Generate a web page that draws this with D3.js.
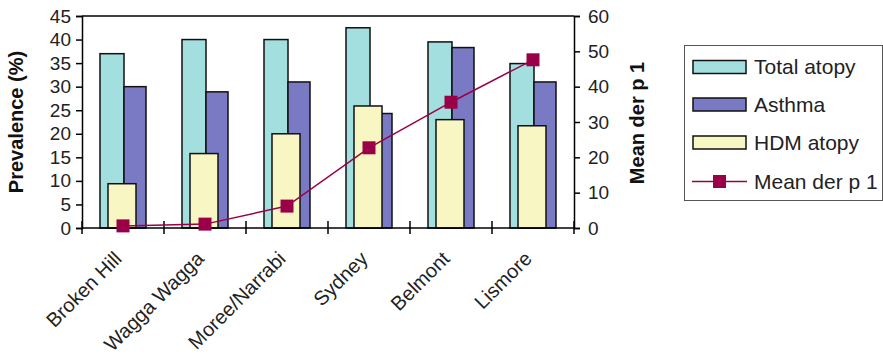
<!DOCTYPE html>
<html><head><meta charset="utf-8">
<script src="https://cdn.jsdelivr.net/npm/d3@7"></script>
<style>body{margin:0;background:#fff}svg{display:block}text{font-family:"Liberation Sans",Arial,sans-serif}</style>
</head><body>
<svg id="c" width="883" height="362"></svg>
<script>
const categories = ["Broken Hill","Wagga Wagga","Moree/Narrabi","Sydney","Belmont","Lismore"];
const totalAtopy = [37.0, 40.0, 40.0, 42.5, 39.5, 34.9];
const asthma = [30.0, 28.9, 31.0, 24.3, 38.3, 31.0];
const hdmAtopy = [9.4, 15.8, 20.0, 25.9, 23.0, 21.7];
const meanDerP1 = [0.6, 1.1, 6.2, 22.7, 35.6, 47.6];
const leftTicks = [0,5,10,15,20,25,30,35,40,45];
const rightTicks = [0,10,20,30,40,50,60];

const colors = {total:"#a3dfdf", asthma:"#7a7ac4", hdm:"#f8f7c4", line:"#9a0048"};
const svg = d3.select("#c");
const L=82, R=574, T=16, B=228;
const x = d3.scaleBand().domain(categories).range([L,R]);
const yL = d3.scaleLinear().domain([0,45]).range([B,T]);
const yR = d3.scaleLinear().domain([0,60]).range([B,T]);
const cx = d => x(d)+x.bandwidth()/2;

// bars
const g = svg.append("g").attr("stroke","#111").attr("stroke-width",1.5);
g.selectAll("rect.t").data(categories).join("rect")
  .attr("x",(d)=>cx(d)-23).attr("width",24)
  .attr("y",(d,i)=>yL(totalAtopy[i])).attr("height",(d,i)=>B-yL(totalAtopy[i]))
  .attr("fill",colors.total);
g.selectAll("rect.a").data(categories).join("rect")
  .attr("x",(d)=>cx(d)+1).attr("width",22)
  .attr("y",(d,i)=>yL(asthma[i])).attr("height",(d,i)=>B-yL(asthma[i]))
  .attr("fill",colors.asthma);
g.selectAll("rect.h").data(categories).join("rect")
  .attr("x",(d)=>cx(d)-15).attr("width",28)
  .attr("y",(d,i)=>yL(hdmAtopy[i])).attr("height",(d,i)=>B-yL(hdmAtopy[i]))
  .attr("fill",colors.hdm);

// frame
svg.append("line").attr("x1",L).attr("x2",R).attr("y1",T).attr("y2",T).attr("stroke","#000").attr("stroke-width",1.5);

// axes
const fs = "20px";
const ax = svg.append("g").attr("transform",`translate(${L},0)`)
  .call(d3.axisLeft(yL).tickValues(leftTicks).tickSize(6).tickPadding(5));
const axR = svg.append("g").attr("transform",`translate(${R},0)`)
  .call(d3.axisRight(yR).tickValues(rightTicks).tickSize(6).tickPadding(8));
[ax,axR].forEach(a=>{a.select(".domain").attr("stroke","#000").attr("stroke-width",1.5);
  a.selectAll(".tick line").attr("stroke","#000").attr("stroke-width",1.5);
  a.selectAll("text").attr("font-size","19px").attr("fill","#222").attr("font-family","Liberation Sans, Arial, sans-serif");});

// x axis
svg.append("line").attr("x1",L).attr("x2",R).attr("y1",B).attr("y2",B).attr("stroke","#000").attr("stroke-width",1.5);
const xt = [...categories.map(d=>x(d)), R];
svg.selectAll("line.xt").data(xt).join("line").attr("x1",d=>d).attr("x2",d=>d)
  .attr("y1",B-7).attr("y2",B+6).attr("stroke","#000").attr("stroke-width",1.5);
svg.selectAll("text.xl").data(categories).join("text")
  .attr("text-anchor","end").attr("font-size",fs).attr("fill","#222")
  .attr("transform",d=>`translate(${cx(d)},${B+32}) rotate(-45)`)
  .text(d=>d);

// line
const line = d3.line().x((d,i)=>cx(categories[i])).y(d=>yR(d));
svg.append("path").datum(meanDerP1).attr("d",line).attr("fill","none").attr("stroke",colors.line).attr("stroke-width",1.5);
svg.selectAll("rect.m").data(meanDerP1).join("rect")
  .attr("x",(d,i)=>cx(categories[i])-6.5).attr("y",d=>yR(d)-6.5).attr("width",13).attr("height",13)
  .attr("fill",colors.line);

// axis titles
svg.append("text").attr("transform",`translate(23,122) rotate(-90)`).attr("text-anchor","middle")
  .attr("font-size",fs).attr("font-weight","bold").attr("fill","#111").text("Prevalence (%)");
svg.append("text").attr("transform",`translate(644,123) rotate(-90)`).attr("text-anchor","middle")
  .attr("font-size",fs).attr("font-weight","bold").attr("fill","#111").text("Mean der p 1");

// legend
const lg = svg.append("g");
lg.append("rect").attr("x",684.5).attr("y",45.5).attr("width",198).attr("height",155).attr("fill","#fff").attr("stroke","#555").attr("stroke-width",1);
const items = [
  {name:"Total atopy", c:colors.total, t:"bar"},
  {name:"Asthma", c:colors.asthma, t:"bar"},
  {name:"HDM atopy", c:colors.hdm, t:"bar"},
  {name:"Mean der p 1", c:colors.line, t:"line"}];
const ry = [67, 104.5, 142.5, 181.5];
items.forEach((it,i)=>{
  const yy = ry[i];
  if(it.t==="bar"){
    lg.append("rect").attr("x",693).attr("y",yy-6.5).attr("width",53).attr("height",13).attr("fill",it.c).attr("stroke","#111").attr("stroke-width",1.5);
  } else {
    lg.append("line").attr("x1",692).attr("x2",747).attr("y1",yy).attr("y2",yy).attr("stroke",it.c).attr("stroke-width",1.5);
    lg.append("rect").attr("x",713).attr("y",yy-6.5).attr("width",13).attr("height",13).attr("fill",it.c);
  }
  lg.append("text").attr("x",754).attr("y",yy+7).attr("font-size","21px").attr("fill","#222").text(it.name);
});
</script>
</body></html>
